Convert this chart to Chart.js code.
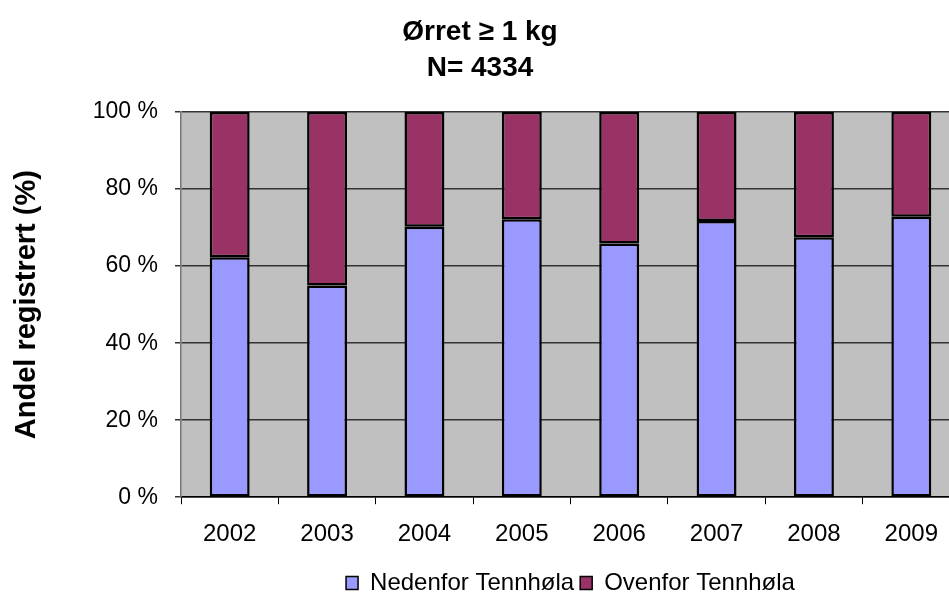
<!DOCTYPE html>
<html>
<head>
<meta charset="utf-8">
<script src="https://cdn.jsdelivr.net/npm/chart.js@4.4.1/dist/chart.umd.min.js"></script>
<style>
  html, body { margin: 0; padding: 0; background: #fff; overflow: hidden; }
  #wrap { width: 949px; height: 592px; overflow: hidden; }
  #myChart { display: block; }
</style>
</head>
<body>
<div id="wrap"><canvas id="myChart"></canvas></div>
<script>
let years = ["2002", "2003", "2004", "2005", "2006", "2007", "2008", "2009"];
let nedenfor = [62.3, 55.0, 70.2, 72.2, 65.9, 71.7, 67.5, 72.8];
let ovenfor = [37.7, 45.0, 29.8, 27.8, 34.1, 28.3, 32.5, 27.2];
let yTicks = [0, 20, 40, 60, 80, 100];

// grey plot area like the old Excel charts
let plotBg = {
  id: "plotBg",
  beforeDraw(chart) {
    let { ctx, chartArea } = chart;
    ctx.save();
    ctx.fillStyle = "#c0c0c0";
    ctx.fillRect(chartArea.left, chartArea.top, chartArea.right - chartArea.left, chartArea.bottom - chartArea.top);
    ctx.restore();
  }
};

// the original chart is a bit wider than the window, right edge is cut off
let canvas = document.getElementById("myChart");
canvas.style.width = "975px";
canvas.style.height = "592px";
canvas.width = 975;
canvas.height = 592;

Chart.defaults.font.family = "'Liberation Sans', Arial, sans-serif";
Chart.defaults.color = "#000";

let myChart = new Chart(canvas.getContext("2d"), {
  type: "bar",
  data: {
    labels: years,
    datasets: [
      {
        label: "Nedenfor Tennhøla",
        data: nedenfor,
        backgroundColor: "#9999ff",
        borderColor: "#000",
        borderWidth: 2.5,
        borderSkipped: false,
        categoryPercentage: 1,
        barPercentage: 0.41
      },
      {
        label: "Ovenfor Tennhøla",
        data: ovenfor,
        backgroundColor: "#993366",
        borderColor: "#000",
        borderWidth: 2.5,
        borderSkipped: false,
        categoryPercentage: 1,
        barPercentage: 0.41
      }
    ]
  },
  options: {
    responsive: false,
    animation: false,
    layout: { padding: { left: 0, right: 15, top: 0, bottom: -13 } },
    plugins: {
      title: {
        display: true,
        text: ["Ørret ≥ 1 kg", "N= 4334"],
        font: { size: 28, weight: "bold", lineHeight: 1.27 },
        color: "#000",
        padding: { top: 15, bottom: 26 }
      },
      legend: {
        position: "bottom",
        fullSize: false,
        labels: {
          boxWidth: 12,
          boxHeight: 13,
          font: { size: 24 },
          color: "#000",
          padding: 6,
          generateLabels(chart) {
            return chart.data.datasets.map((ds, i) => ({
              text: ds.label,
              fillStyle: ds.backgroundColor,
              strokeStyle: "#000",
              lineWidth: 1.5,
              datasetIndex: i
            }));
          }
        }
      },
      tooltip: { enabled: false }
    },
    scales: {
      x: {
        stacked: true,
        offset: true,
        grid: {
          offset: true,
          drawOnChartArea: false,
          drawTicks: true,
          tickLength: 7,
          color: "#000"
        },
        border: { color: "#000", width: 1.5 },
        ticks: { font: { size: 24 }, padding: 16, maxRotation: 0 }
      },
      y: {
        stacked: true,
        min: 0,
        max: 100,
        afterBuildTicks(scale) {
          scale.ticks = yTicks.map(v => ({ value: v }));
        },
        afterFit(scale) {
          scale.width = 181;
        },
        grid: { color: "#333", tickLength: 6, lineWidth: 1.5 },
        border: { color: "#777", width: 1.5 },
        ticks: {
          font: { size: 23 },
          padding: 17,
          callback: v => v + " %"
        },
        title: {
          display: true,
          text: "Andel registrert (%)",
          font: { size: 29, weight: "bold" },
          padding: { top: 10, bottom: 0 }
        }
      }
    }
  },
  plugins: [plotBg]
});
</script>
</body>
</html>
